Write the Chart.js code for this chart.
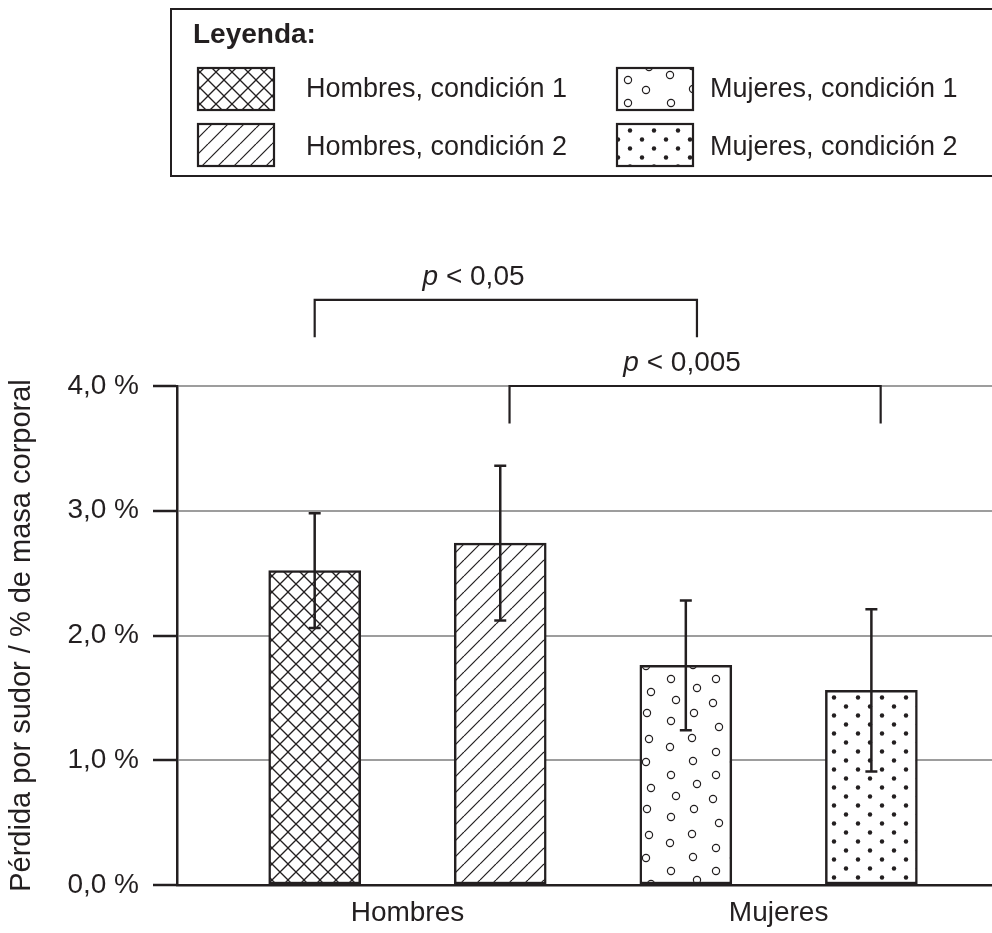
<!DOCTYPE html>
<html>
<head>
<meta charset="utf-8">
<script src="https://cdn.jsdelivr.net/npm/chart.js@4/dist/chart.umd.min.js"></script>
<style>
  html, body { margin: 0; padding: 0; background: #fff; }
  canvas { display: block; }
</style>
</head>
<body>
<canvas id="c" width="992" height="933"></canvas>
<script>
// data
const categories = ['Hombres', 'Mujeres'];
const seriesNames = ['Hombres, condición 1', 'Hombres, condición 2', 'Mujeres, condición 1', 'Mujeres, condición 2'];
const seriesGroup = [0, 0, 1, 1];
const means = [2.52, 2.74, 1.76, 1.56];
const errors = [0.46, 0.62, 0.52, 0.65];
const yTicks = [0, 1, 2, 3, 4];
const yTitle = 'Pérdida por sudor / % de masa corporal';
const pLabels = ['< 0,05', '< 0,005'];

const INK = '#231f20';
const GRID = '#9d9d9d';
const FONT = '"Liberation Sans", Arial, Helvetica, sans-serif';

// bar i sits left / right of its group centre
function xPos(i) { return seriesGroup[i] + (i % 2 ? 0.25 : -0.25); }

// ---- fill patterns ----
function tile(w, h, draw) {
  const c = document.createElement('canvas');
  c.width = w; c.height = h;
  const g = c.getContext('2d');
  g.fillStyle = '#fff'; g.fillRect(0, 0, w, h);
  g.strokeStyle = INK; g.fillStyle = INK;
  draw(g, w, h);
  return g.createPattern(c, 'repeat');
}
const pCross = tile(16, 16, function(g, w, h) {
  g.lineWidth = 1.3;
  for (let k = -w; k <= w; k += w) {
    g.beginPath(); g.moveTo(k, 0); g.lineTo(k + w, h); g.stroke();
    g.beginPath(); g.moveTo(k + w, 0); g.lineTo(k, h); g.stroke();
  }
});
const pHatch = tile(16, 16, function(g, w, h) {
  g.lineWidth = 1.2;
  for (let k = -w; k <= w; k += w) {
    g.beginPath(); g.moveTo(k, h); g.lineTo(k + w, 0); g.stroke();
  }
});
const pRings = tile(88, 96, function(g, w, h) {
  g.lineWidth = 1.2;
  const pts = [[12,7],[9,31],[15,55],[12,80],[35,20],[31,41],[33,67],[30,90],
               [55,7],[60,28],[55,49],[54,75],[81,16],[78,41],[76,66],[77,89]];
  pts.forEach(function(p) {
    [-w, 0, w].forEach(function(dx) { [-h, 0, h].forEach(function(dy) {
      g.beginPath(); g.arc(p[0] + dx, p[1] + dy, 3.6, 0, Math.PI * 2); g.stroke();
    }); });
  });
});
const pDots = tile(24, 18, function(g, w, h) {
  [[6, 4.5], [18, 13.5]].forEach(function(p) {
    g.beginPath(); g.arc(p[0], p[1], 2.2, 0, Math.PI * 2); g.fill();
  });
});
const patterns = [pCross, pHatch, pRings, pDots];

// ---- error bars ----
const errorBars = {
  id: 'errorBars',
  afterDatasetsDraw(chart) {
    const g = chart.ctx, y = chart.scales.y;
    const meta = chart.getDatasetMeta(0);
    g.save();
    g.strokeStyle = INK; g.lineWidth = 2.5;
    meta.data.forEach(function(bar, i) {
      const top = y.getPixelForValue(means[i] + errors[i]);
      const bot = y.getPixelForValue(means[i] - errors[i]);
      g.beginPath();
      g.moveTo(bar.x, top); g.lineTo(bar.x, bot);
      g.moveTo(bar.x - 6, top); g.lineTo(bar.x + 6, top);
      g.moveTo(bar.x - 6, bot); g.lineTo(bar.x + 6, bot);
      g.stroke();
    });
    g.restore();
  }
};

// ---- significance brackets ----
const brackets = [
  { from: -0.25, to: 0.78, level: 4.69, drop: 0.30, text: pLabels[0], at: 0.178 },
  { from: 0.275, to: 1.275, level: 4.0, drop: 0.30, text: pLabels[1], at: 0.74 }
];
const bracketPlugin = {
  id: 'brackets',
  afterDraw(chart) {
    const g = chart.ctx, x = chart.scales.x, y = chart.scales.y;
    g.save();
    g.strokeStyle = INK; g.fillStyle = INK; g.lineWidth = 2.2;
    brackets.forEach(function(b) {
      const x0 = x.getPixelForValue(b.from), x1 = x.getPixelForValue(b.to);
      const yt = y.getPixelForValue(b.level), yb = y.getPixelForValue(b.level - b.drop);
      g.beginPath();
      g.moveTo(x0, yb); g.lineTo(x0, yt); g.lineTo(x1, yt); g.lineTo(x1, yb);
      g.stroke();
      g.font = 'italic 28px ' + FONT;
      const wp = g.measureText('p').width;
      g.font = '28px ' + FONT;
      const rest = ' ' + b.text;
      const wr = g.measureText(rest).width;
      const cx = x.getPixelForValue(b.at);
      const left = cx - (wp + wr) / 2;
      g.textBaseline = 'alphabetic'; g.textAlign = 'left';
      g.font = 'italic 28px ' + FONT;
      g.fillText('p', left, yt - 15);
      g.font = '28px ' + FONT;
      g.fillText(rest, left + wp, yt - 15);
    });
    g.restore();
  }
};

// ---- legend box ----
const legendBox = {
  id: 'legendBox',
  afterDraw(chart) {
    const g = chart.ctx;
    g.save();
    g.strokeStyle = INK; g.lineWidth = 2;
    g.strokeRect(171, 9, 840, 167);
    g.fillStyle = INK;
    g.textBaseline = 'alphabetic'; g.textAlign = 'left';
    g.font = 'bold 28px ' + FONT;
    g.fillText('Leyenda:', 193, 43);
    const cols = [[198, 306], [617, 710]];
    const rows = [[68, 97], [124, 155]];
    seriesNames.forEach(function(name, i) {
      const col = cols[seriesGroup[i]], row = rows[i % 2];
      g.fillStyle = patterns[i];
      g.fillRect(col[0], row[0], 76, 42);
      g.lineWidth = 2.2; g.strokeStyle = INK;
      g.strokeRect(col[0], row[0], 76, 42);
      g.fillStyle = INK;
      g.font = '27px ' + FONT;
      g.fillText(name, col[1], row[1]);
    });
    g.restore();
  }
};

const tickFont = { family: FONT, size: 28 };

new Chart(document.getElementById('c'), {
  type: 'bar',
  data: {
    datasets: [{
      data: means.map(function(v, i) { return { x: xPos(i), y: v }; }),
      backgroundColor: patterns,
      borderColor: INK,
      borderWidth: 2.5,
      borderSkipped: false,
      barThickness: 92
    }]
  },
  options: {
    responsive: false,
    devicePixelRatio: 1,
    animation: false,
    layout: { padding: { top: 386, right: 0, bottom: 0, left: 0 } },
    plugins: { legend: { display: false }, tooltip: { enabled: false } },
    scales: {
      x: {
        type: 'linear',
        offset: false,
        min: -0.621, max: 1.575,
        afterBuildTicks: function(s) { s.ticks = categories.map(function(c, i) { return { value: i }; }); },
        afterFit: function(s) { s.height = 48; },
        ticks: {
          autoSkip: false, maxRotation: 0, padding: 11,
          color: INK, font: tickFont,
          callback: function(v) { return categories[v] !== undefined ? categories[v] : ''; }
        },
        grid: { display: false, drawTicks: false },
        border: { display: true, color: INK, width: 2.5 }
      },
      y: {
        min: 0, max: 4,
        afterBuildTicks: function(s) { s.ticks = yTicks.map(function(v) { return { value: v }; }); },
        afterFit: function(s) { s.width = 177; },
        ticks: {
          padding: 14, color: INK, font: tickFont,
          callback: function(v) { return v.toFixed(1).replace('.', ',') + ' %'; }
        },
        grid: {
          color: function(ctx) { return ctx.tick && ctx.tick.value === 0 ? 'rgba(0,0,0,0)' : GRID; },
          lineWidth: 2, tickLength: 24, tickColor: INK, tickWidth: 2.5
        },
        border: { display: true, color: INK, width: 2.5 },
        title: {
          display: true, text: yTitle, color: INK,
          font: { family: FONT, size: 29 }, padding: { top: 5, bottom: 0 }
        }
      }
    }
  },
  plugins: [errorBars, bracketPlugin, legendBox]
});
</script>
</body>
</html>
